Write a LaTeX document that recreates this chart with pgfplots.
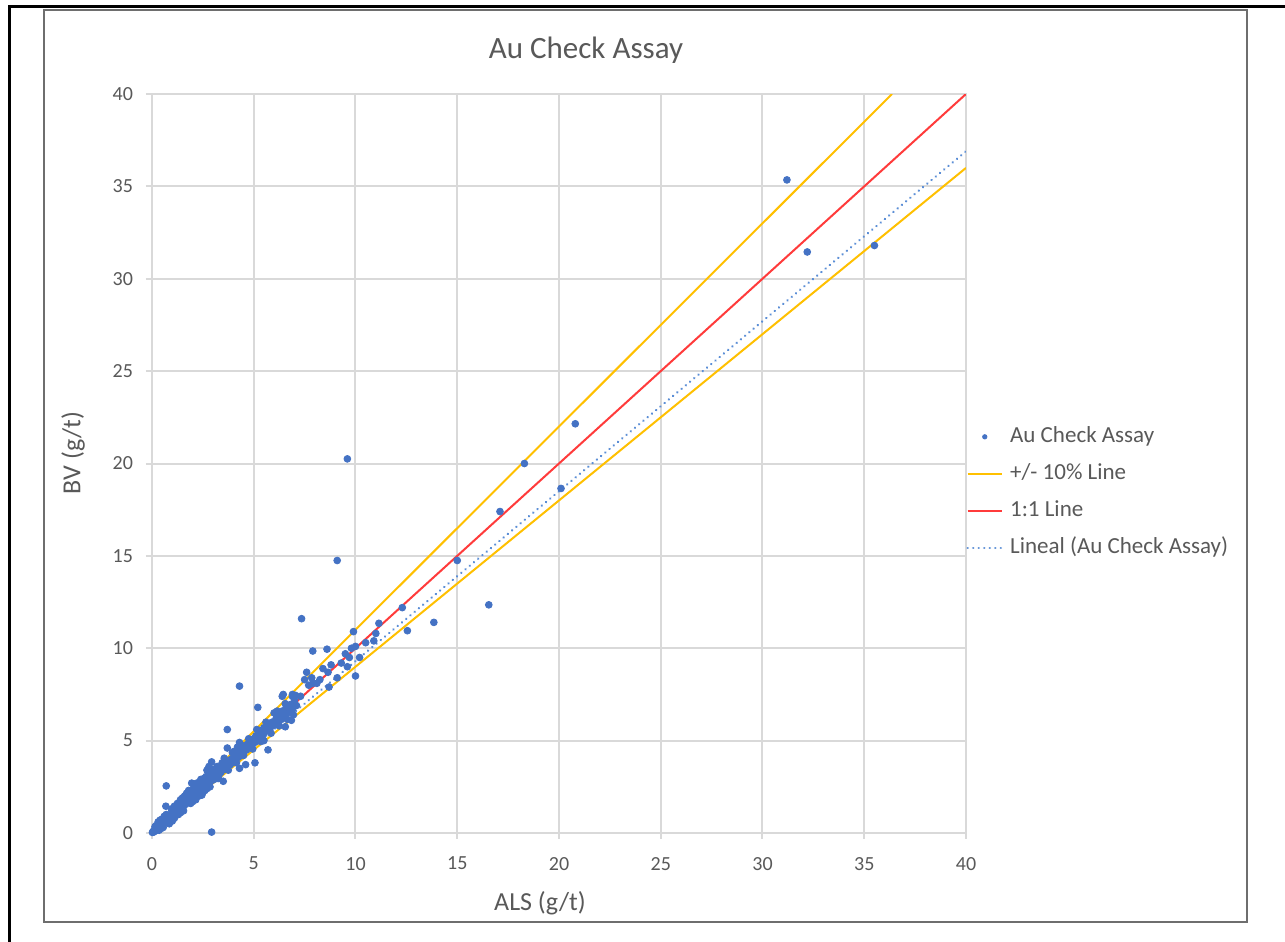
\documentclass[border=0pt]{standalone}
\usepackage{pgfplots}
\pgfplotsset{compat=1.18}
\usepackage{fontspec}
\setmainfont{Carlito}
\definecolor{ptblue}{HTML}{4472C4}
\definecolor{trendblue}{HTML}{5B8ED6}
\definecolor{gold}{HTML}{FFC000}
\definecolor{redline}{HTML}{FF3B3B}
\definecolor{txtgray}{HTML}{595959}
\definecolor{gridgray}{HTML}{D9D9D9}
\definecolor{framegray}{HTML}{6E6E6E}
\begin{document}
\begin{tikzpicture}
\path[use as bounding box] (0,0) rectangle (642.5pt,471pt);
\fill[white] (0,0) rectangle (642.5pt,471pt);
\draw[black, line width=1.5pt] (4.5pt,0) -- (4.5pt,467.5pt) -- (642.5pt,467.5pt);
\draw[framegray, line width=1pt] (22pt,10pt) rectangle (623.5pt,466pt);
\begin{axis}[
  at={(76pt,54.5pt)}, anchor=south west,
  scale only axis, width=407pt, height=369.5pt,
  xmin=0, xmax=40, ymin=0, ymax=40,
  xtick={0,5,...,40}, ytick={0,5,...,40},
  grid=major, major grid style={gridgray, line width=1pt},
  axis line style={gridgray, line width=1pt},
  tick style={gridgray, line width=1pt},
  tick align=outside, major tick length=3pt,
  xtick pos=left, ytick pos=left,
  tick label style={font=\fontsize{10}{11}\selectfont, text=txtgray},
  xticklabel style={yshift=-5.5pt},
  yticklabel style={xshift=-3pt},
  /pgf/number format/assume math mode=true,
  legend cell align=left,
  legend style={at={(1.0,0.461)}, anchor=west, draw=none, fill=none,
    inner sep=0pt, font=\fontsize{11.5}{13}\selectfont, text=txtgray,
    nodes={text height=8.5pt, text depth=3pt, inner sep=3.5pt}},
]
\addlegendimage{only marks, mark=*, mark size=1.1pt, color=ptblue}
\addlegendentry{Au Check Assay}
\addlegendimage{gold, line width=1pt}
\addlegendentry{+/- 10\% Line}
\addlegendimage{redline, line width=1pt}
\addlegendentry{1:1 Line}
\addlegendimage{trendblue, line width=1.3pt, line cap=round, dash pattern=on 0.01pt off 2.75pt}
\addlegendentry{Lineal (Au Check Assay)}

\addplot[gold, line width=1pt, forget plot] coordinates {(0,0) (36.364,40)};
\addplot[gold, line width=1pt, forget plot] coordinates {(0,0) (40,36)};
\addplot[redline, line width=1pt, forget plot] coordinates {(0,0) (40,40)};
\addplot[trendblue, line width=1.3pt, line cap=round, dash pattern=on 0.01pt off 2.75pt, forget plot] coordinates {(0,0.1) (40,36.9)};

\addplot[only marks, mark=*, mark size=1.7pt, color=ptblue, forget plot] coordinates {
(0.02,0.03) (0.05,0.08) (0.08,0.05) (0.1,0.12) (0.12,0.18) (0.15,0.1) (0.18,0.22) (0.2,0.15)
(0.22,0.3) (0.25,0.2) (0.28,0.35) (0.3,0.25) (0.33,0.4) (0.35,0.3) (0.38,0.45) (0.4,0.35)
(0.42,0.5) (0.45,0.4) (0.48,0.55) (0.5,0.45) (0.52,0.62) (0.55,0.5) (0.58,0.65) (0.6,0.55)
(0.62,0.7) (0.65,0.6) (0.68,0.78) (0.7,0.62) (0.75,0.85) (0.78,0.7) (0.8,0.9) (0.85,0.75)
(0.88,0.95) (0.9,0.82) (0.95,1.05) (1.0,0.9) (1.02,1.12) (1.05,0.95) (1.1,1.2) (1.15,1.05)
(0.3,0.6) (0.5,0.75) (0.6,0.9) (0.75,0.55) (0.9,0.65) (1.0,0.65) (0.2,0.4) (0.45,0.25)
(0.15,0.35) (0.35,0.15) (0.55,0.3) (0.4,0.7) (0.7,1.0) (0.85,0.5) (1.1,0.8) (0.95,1.3)
(1.2,1.3) (1.25,1.15) (1.3,1.4) (1.35,1.25) (1.4,1.5) (1.45,1.35) (1.5,1.6) (1.55,1.45)
(1.6,1.7) (1.65,1.55) (1.7,1.8) (1.75,1.65) (1.8,1.9) (1.85,1.75) (1.9,2.0) (1.95,1.85)
(2.0,2.1) (2.05,1.95) (2.1,2.2) (2.15,2.05) (2.2,2.3) (2.25,2.15) (2.3,2.4) (2.35,2.25)
(2.4,2.5) (2.45,2.35) (2.5,2.6) (2.55,2.45) (2.6,2.7) (2.65,2.55) (2.7,2.8) (2.75,2.65)
(2.8,2.9) (2.85,2.75) (2.9,3.0) (2.95,2.85) (1.5,1.9) (1.8,2.3) (2.2,2.7) (2.4,2.9)
(1.4,1.1) (2.0,1.7) (2.6,2.3) (2.7,3.4) (2.8,3.6) (2.9,3.2) (1.6,2.0) (1.3,1.0) (2.3,2.0)
(1.25,1.6) (1.55,1.2) (1.7,2.15) (1.9,1.6) (2.05,2.45) (2.15,1.8) (2.35,2.7) (2.5,2.2)
(2.55,2.95) (2.7,2.4) (1.1,1.45) (1.4,1.8) (2.1,2.55) (2.45,2.05) (2.65,3.05) (2.85,2.5)
(3.0,3.1) (3.05,2.9) (3.1,3.25) (3.15,3.0) (3.2,3.3) (3.3,3.15) (3.35,3.45) (3.4,3.3)
(3.5,3.6) (3.5,2.8) (3.6,3.45) (3.65,3.75) (3.7,3.6) (3.8,3.9) (3.85,3.7) (3.9,4.0)
(4.0,3.85) (4.05,4.15) (4.1,4.0) (4.2,4.3) (4.25,4.1) (4.3,4.45) (4.35,4.2) (4.4,4.55)
(4.45,4.3) (4.5,4.6) (4.55,4.45) (4.6,4.75) (4.65,4.5) (4.7,4.8) (4.8,4.65) (4.85,4.95)
(4.9,4.8) (5.0,5.1) (2.93,3.85) (3.7,4.6) (3.7,5.6) (4.3,3.5) (4.6,3.7) (5.06,3.8)
(4.0,4.4) (3.2,3.6) (3.0,3.45) (3.25,2.95) (3.45,3.8) (3.75,3.4) (3.95,4.35) (4.15,3.8)
(4.35,4.75) (4.5,4.2) (4.75,5.1) (4.95,4.55) (3.55,4.05) (4.2,4.65)
(5.05,4.9) (5.1,5.25) (5.2,5.0) (5.2,6.8) (5.25,5.4) (5.3,5.15) (5.4,5.55) (5.45,5.3)
(5.5,5.7) (5.6,5.5) (5.7,4.5) (5.7,5.85) (5.8,5.65) (5.9,6.0) (6.0,5.85) (6.1,6.2)
(6.2,6.0) (6.3,6.45) (6.35,6.15) (6.4,6.6) (6.45,7.5) (6.5,6.3) (6.6,6.8) (6.7,6.5)
(6.8,6.95) (6.9,7.5) (6.9,6.7) (7.0,7.2) (7.1,6.9) (7.3,7.4) (5.5,5.0) (6.0,6.5)
(6.55,5.75) (6.85,6.1) (5.06,5.0) (4.3,4.9) (5.15,5.6) (5.35,4.95) (5.6,6.0) (5.85,5.4)
(6.15,6.6) (6.25,5.8) (6.55,7.0) (6.65,6.15) (7.05,7.45) (6.95,6.4)
(7.35,11.6) (7.6,8.7) (7.7,8.0) (7.85,8.4) (7.9,9.85) (7.9,8.1) (8.1,8.1) (8.25,8.3)
(8.6,9.95) (8.65,8.7) (8.7,7.9) (8.8,9.1) (9.1,8.4) (9.6,9.0) (9.7,9.5) (9.8,10.0)
(9.9,10.9) (10.0,10.1) (10.0,8.5) (10.2,9.5) (10.5,10.3) (10.9,10.4) (11.0,10.8) (11.15,11.35)
(12.3,12.2) (12.55,10.95) (13.85,11.4) (15.0,14.75) (16.55,12.35) (17.1,17.4) (18.3,20.0)
(20.1,18.65) (20.8,22.15) (31.2,35.35) (32.2,31.45) (35.5,31.8) (9.6,20.25) (9.1,14.75)
(4.3,7.95) (2.93,0.05) (0.7,2.55) (0.68,1.45) (1.95,2.7) (6.4,7.4) (6.9,7.4) (7.5,8.3)
(8.4,8.9) (9.3,9.2) (9.5,9.7)
};
\end{axis}
\node[text=txtgray, font=\fontsize{15.5}{18}\selectfont] at (293pt,446pt) {Au Check Assay};
\node[text=txtgray, font=\fontsize{13}{15}\selectfont] at (270pt,19.5pt) {ALS (g/t)};
\node[text=txtgray, font=\fontsize{13}{15}\selectfont, rotate=90] at (36.5pt,244.5pt) {BV (g/t)};
\end{tikzpicture}
\end{document}
